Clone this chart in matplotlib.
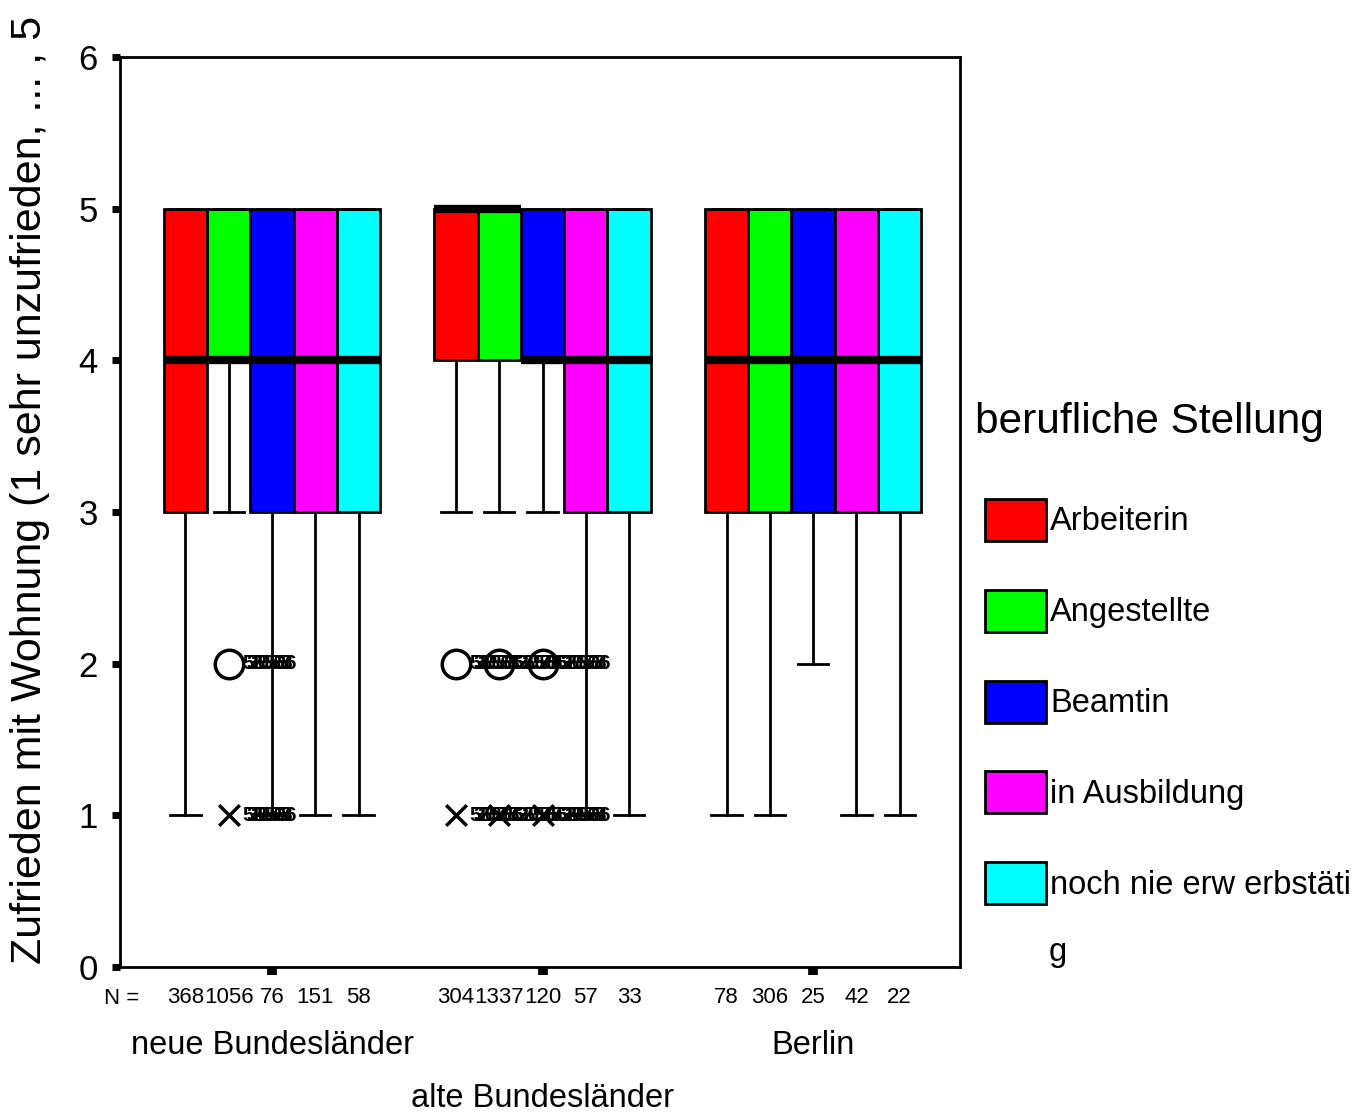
import matplotlib
matplotlib.use("Agg")
import matplotlib.pyplot as plt
from matplotlib.patches import Rectangle
from matplotlib.transforms import blended_transform_factory

plt.rcParams['font.family'] = ['Liberation Sans', 'DejaVu Sans']

regions = ["neue Bundesländer", "alte Bundesländer", "Berlin"]
jobs = ["Arbeiterin", "Angestellte", "Beamtin", "in Ausbildung", "noch nie erw erbstäti"]
colors = ["#ff0000", "#00ff00", "#0000ff", "#ff00ff", "#00ffff"]

# per region, per job: (whislo, q1, med, q3, whishi)
stats = [
    [(1, 3, 4, 5, 5), (3, 4, 4, 5, 5), (1, 3, 4, 5, 5), (1, 3, 4, 5, 5), (1, 3, 4, 5, 5)],
    [(3, 4, 5, 5, 5), (3, 4, 5, 5, 5), (3, 4, 4, 5, 5), (1, 3, 4, 5, 5), (1, 3, 4, 5, 5)],
    [(1, 3, 4, 5, 5), (1, 3, 4, 5, 5), (2, 3, 4, 5, 5), (1, 3, 4, 5, 5), (1, 3, 4, 5, 5)],
]
n_counts = [
    [368, 1056, 76, 151, 58],
    [304, 1337, 120, 57, 33],
    [78, 306, 25, 42, 22],
]
# outliers (circle at 2) and extremes (x at 1): (region, job)
outliers = [(0, 1), (1, 0), (1, 1), (1, 2)]
extremes = [(0, 1), (1, 0), (1, 1), (1, 2)]
case_ids = ["5555", "3058", "2566"]

fig = plt.figure(figsize=(13.72, 11.13), dpi=100)
ax = fig.add_axes([120 / 1372, 1 - 967 / 1113, 840 / 1372, 910 / 1113])

step = 0.16
def pos(g, i):
    return g + 1 + (i - 2) * step

bxstats, positions = [], []
for g in range(3):
    for i in range(5):
        lo, q1, med, q3, hi = stats[g][i]
        bxstats.append(dict(whislo=lo, q1=q1, med=med, q3=q3, whishi=hi, fliers=[]))
        positions.append(pos(g, i))

bp = ax.bxp(bxstats, positions=positions, widths=step, patch_artist=True,
            showfliers=False,
            boxprops=dict(edgecolor='black', linewidth=2),
            whiskerprops=dict(color='black', linewidth=2),
            capprops=dict(color='black', linewidth=2),
            medianprops=dict(color='black', linewidth=6, solid_capstyle='butt'),
            capwidths=step * 0.7)
for k, patch in enumerate(bp['boxes']):
    patch.set_facecolor(colors[k % 5])

for (g, i) in outliers:
    x = pos(g, i)
    ax.scatter([x], [2], s=420, facecolors='white', edgecolors='black', linewidths=2.5, zorder=5)
    for j, cid in enumerate(case_ids):
        ax.text(x + 0.05 + j * 0.015, 2, cid, fontsize=15, fontweight='bold',
                va='center', ha='left', zorder=6)
for (g, i) in extremes:
    x = pos(g, i)
    ax.scatter([x], [1], s=220, marker='x', color='black', linewidths=2.5, zorder=5)
    for j, cid in enumerate(case_ids):
        ax.text(x + 0.05 + j * 0.015, 1, cid, fontsize=15, fontweight='bold',
                va='center', ha='left', zorder=6)

ax.set_xlim(0.438, 3.543)
ax.set_ylim(0, 6)
ax.set_xticks([1, 2, 3])
ax.set_xticklabels([])
ax.set_yticks(range(7))
ax.tick_params(axis='y', direction='out', length=6, width=5, labelsize=25, pad=10)
ax.tick_params(axis='x', direction='out', length=6, width=7)
for sp in ax.spines.values():
    sp.set_linewidth(2)

trans = blended_transform_factory(ax.transData, ax.transAxes)
for g in range(3):
    for i in range(5):
        ax.text(pos(g, i), -0.034, str(n_counts[g][i]), transform=trans,
                ha='center', va='center', fontsize=16)
ax.text(122 / 1372, 1 - 998 / 1113, "N =", transform=fig.transFigure,
        ha='center', va='center', fontsize=16)
ax.text(1, -0.086, regions[0], transform=trans, ha='center', va='center', fontsize=23.5)
ax.text(2, -0.144, regions[1], transform=trans, ha='center', va='center', fontsize=23.5)
ax.text(3, -0.086, regions[2], transform=trans, ha='center', va='center', fontsize=23.5)

fig.text(30 / 1372, 1 - 490 / 1113, "Zufrieden mit Wohnung (1 sehr unzufrieden, ... , 5",
         rotation=90, ha='center', va='center', fontsize=31)

# legend
fig.text(975 / 1372, 1 - 422 / 1113, "berufliche Stellung", ha='left', va='center', fontsize=30.5)
for k, (lab, c) in enumerate(zip(jobs, colors)):
    yc = 520 + k * 90.8
    fig.patches.append(Rectangle((985 / 1372, 1 - (yc + 21) / 1113), 61 / 1372, 42 / 1113,
                                 facecolor=c, edgecolor='black', linewidth=2,
                                 transform=fig.transFigure))
    fig.text(1050 / 1372, 1 - (yc + 2) / 1113, lab, ha='left', va='center', fontsize=23.5)
fig.text(1058 / 1372, 1 - 953 / 1113, "g", ha='center', va='center', fontsize=23.5)

fig.savefig("out.png", dpi=100)
